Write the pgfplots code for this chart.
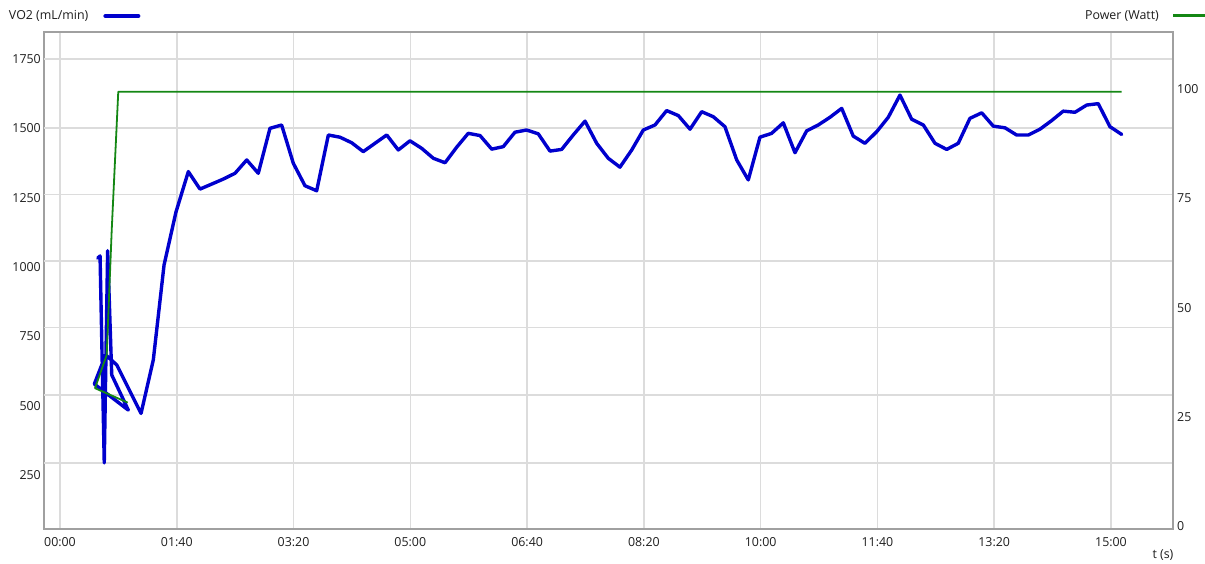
\documentclass[border=0pt]{standalone}
\usepackage{pgfplots}
\pgfplotsset{compat=1.18}
\usepackage{fontspec}
\setmainfont{Open Sans}
\definecolor{vo2blue}{RGB}{0,0,205}
\definecolor{pwgreen}{RGB}{20,135,20}
\definecolor{gridgray}{RGB}{220,220,220}
\definecolor{framegray}{RGB}{160,160,160}
\definecolor{txt}{RGB}{30,30,30}
\begin{document}
\begin{tikzpicture}
\useasboundingbox (-44pt,-34pt) rectangle (1161pt,529pt);
\begin{axis}[
  scale only axis, width=1129pt, height=497pt, at={(0pt,0pt)}, anchor=south west,
  xmin=-13.7, xmax=953.1, ymin=55.3, ymax=1847.4,
  xtick={0,100,...,900},
  xticklabels={00:00,01:40,03:20,05:00,06:40,08:20,10:00,11:40,13:20,15:00},
  ytick={250,500,750,1000,1250,1500,1750},
  extra y ticks={293,538,781,1022,1262,1501,1750},
  extra y tick labels={},
  extra y tick style={grid=major},
  xmajorgrids=true,
  grid style={draw=gridgray, line width=1.5pt},
  major tick length=0pt,
  axis line style={draw=framegray, line width=1.3pt},
  /pgf/number format/assume math mode=true,
  /pgf/number format/set thousands separator={},
  tick label style={font=\fontsize{12.4pt}{14pt}\selectfont, text=txt, inner sep=0pt},
  yticklabel style={anchor=east, xshift=-3pt},
  xticklabel style={anchor=base, yshift=-17pt},
  xlabel={t (s)},
  xlabel style={at={(axis description cs:0.9911,-0.0523)}, anchor=center, font=\fontsize{12.4pt}{14pt}\selectfont, text=txt, inner sep=0pt},
  legend plot pos=right,
  legend style={at={(axis description cs:-0.031,1.0322)}, anchor=west, draw=none, fill=none, inner sep=0pt, outer sep=0pt, column sep=15pt, font=\fontsize{12.4pt}{14pt}\selectfont, text=txt, nodes={inner sep=0pt}},
  legend image code/.code={\draw[#1, line width=4pt] (0pt,0pt) -- (33pt,0pt);},
]
\addplot[vo2blue, line width=3.4pt, line join=round, line cap=round] coordinates {
(32.3,1032) (34.3,1040) (37.9,294) (40.8,1059) (44.3,611) (58.5,484) (29.4,578) (39.1,683) (48.6,647)
(69.4,472) (79.9,665) (89.1,1007) (99.3,1198) (109.9,1344) (119.9,1281) (129.9,1299) (139.8,1317)
(149.9,1338) (159.9,1386) (169.8,1338) (179.8,1500) (189.8,1512) (199.8,1374) (209.8,1293) (219.8,1275)
(229.8,1476) (239.8,1468) (249.8,1448) (259.7,1416) (269.7,1446) (279.8,1476) (289.7,1422) (299.7,1455)
(309.7,1428) (319.7,1392) (329.7,1376) (339.7,1432) (349.6,1482) (359.7,1474) (369.7,1425) (379.6,1434)
(389.6,1486) (399.6,1494) (409.6,1480) (419.6,1418) (429.6,1424) (439.5,1476) (449.6,1526) (459.6,1446)
(469.5,1392) (479.5,1360) (489.6,1422) (499.5,1494) (509.5,1512) (519.5,1564) (529.5,1546) (539.5,1497)
(549.5,1560) (559.4,1542) (569.4,1506) (579.5,1386) (589.4,1314) (599.4,1468) (609.4,1482) (619.4,1520)
(629.4,1412) (639.4,1491) (649.3,1512) (659.4,1540) (669.4,1572) (679.3,1472) (689.3,1446) (699.4,1488)
(709.3,1540) (719.3,1620) (729.3,1533) (739.3,1512) (749.3,1446) (759.3,1424) (769.2,1446) (779.2,1536)
(789.3,1556) (799.2,1508) (809.2,1502) (819.2,1476) (829.2,1476) (839.2,1497) (849.2,1528) (859.1,1562)
(869.2,1558) (879.2,1584) (889.1,1589) (899.1,1506) (909.2,1478)
};
\addlegendentry{VO2 (mL/min)}
\end{axis}
\begin{axis}[
  scale only axis, width=1129pt, height=497pt, at={(0pt,0pt)}, anchor=south west,
  xmin=-13.7, xmax=953.1, ymin=0, ymax=113.65,
  axis x line=none, axis y line*=right,
  ytick={0,25,50,75,100},
  major tick length=0pt,
  axis line style={draw=framegray, line width=1.3pt},
  /pgf/number format/assume math mode=true,
  tick label style={font=\fontsize{12.4pt}{14pt}\selectfont, text=txt, inner sep=0pt},
  yticklabel style={anchor=west, xshift=4pt, yshift=2.5pt},
  legend plot pos=right,
  legend style={at={(axis description cs:0.9221,1.0322)}, anchor=west, draw=none, fill=none, inner sep=0pt, outer sep=0pt, column sep=13pt, font=\fontsize{12.4pt}{14pt}\selectfont, text=txt, nodes={inner sep=0pt}},
  legend image code/.code={\draw[#1, line width=3pt] (0pt,0pt) -- (33pt,0pt);},
]
\addplot[pwgreen, line width=1.8pt, line join=round] coordinates {
(58.0,28.9) (30.0,32.2) (40.0,39.8) (44.3,68.4) (49.9,100) (909.2,100)
};
\addlegendentry{Power (Watt)}
\end{axis}
\end{tikzpicture}
\end{document}
